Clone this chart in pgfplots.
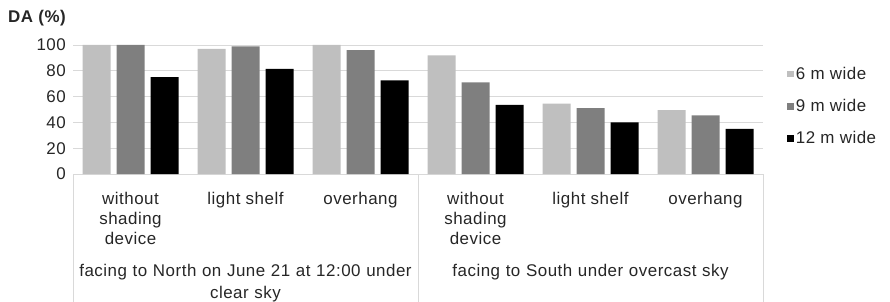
\documentclass[border=0pt]{standalone}
\usepackage{pgfplots}
\pgfplotsset{compat=1.18}
\usepackage{fontspec}
\setmainfont{Liberation Sans}[LetterSpace=3]
\definecolor{cA}{HTML}{BFBFBF}
\definecolor{cB}{HTML}{7F7F7F}
\definecolor{cC}{HTML}{000000}
\definecolor{grid}{HTML}{D9D9D9}
\definecolor{txt}{HTML}{262626}
\newcommand\lblfont{\fontsize{17}{20}\selectfont}
\begin{document}
\begin{tikzpicture}
\useasboundingbox (0,0) rectangle (890bp,302bp);
\begin{axis}[
  at={(73bp,128bp)}, anchor=south west,
  scale only axis, width=690bp, height=129bp,
  ymin=0, ymax=100, ytick={0,20,...,100},
  xmin=-0.5, xmax=5.5, xtick={0,...,5},
  xticklabels={without\\shading\\device, light shelf, overhang, without\\shading\\device, light shelf, overhang},
  ybar=6bp, bar width=28bp,
  axis line style={draw=none},
  axis x line*=bottom, axis y line*=left,
  x axis line style={draw=grid, line width=1pt},
  ymajorgrids, grid style={draw=grid, line width=1pt},
  major tick length=0pt,
  clip=false,
  /pgf/number format/assume math mode=true,
  tick label style={font=\lblfont, text=txt},
  yticklabel style={inner sep=0pt, xshift=-7bp},
  xticklabel style={align=center, inner sep=0pt, yshift=-18bp},
  legend style={at={(1.035,0.845)}, anchor=north west, draw=none, fill=none,
    font=\lblfont, text=txt, row sep=14.5bp, inner sep=0pt,
    cells={anchor=west}},
  legend image code/.code={\fill[#1] (0bp,-3.3bp) rectangle (6.6bp,3.3bp);},
]
\addplot[fill=cA, draw=none] coordinates {(0,100) (1,97) (2,100) (3,92) (4,54.5) (5,49.5)};
\addplot[fill=cB, draw=none] coordinates {(0,100) (1,99) (2,96) (3,71) (4,51) (5,45.5)};
\addplot[fill=cC, draw=none] coordinates {(0,75) (1,81.5) (2,72.5) (3,53.5) (4,40) (5,35)};
\legend{6 m wide, 9 m wide, 12 m wide}
\draw[grid, line width=1pt] (rel axis cs:0,0) -- ([yshift=-130bp]rel axis cs:0,0);
\draw[grid, line width=1pt] (rel axis cs:0.5,0) -- ([yshift=-130bp]rel axis cs:0.5,0);
\draw[grid, line width=1pt] (rel axis cs:1,0) -- ([yshift=-130bp]rel axis cs:1,0);
\node[anchor=north, align=center, text width=350bp, inner sep=0pt, font=\fontsize{17}{22}\selectfont, text=txt]
  at (rel axis cs:0.25,0) [yshift=-90bp] {facing to North on June 21 at 12:00 under\\clear sky};
\node[anchor=north, align=center, text width=350bp, inner sep=0pt, font=\fontsize{17}{22}\selectfont, text=txt]
  at (rel axis cs:0.75,0) [yshift=-90bp] {facing to South under overcast sky};
\node[anchor=west, inner sep=0pt, font=\fontsize{17}{20}\selectfont\bfseries, text=txt]
  at (rel axis cs:0,1) [xshift=-65bp, yshift=27bp] {DA (\%)};
\end{axis}
\end{tikzpicture}
\end{document}
